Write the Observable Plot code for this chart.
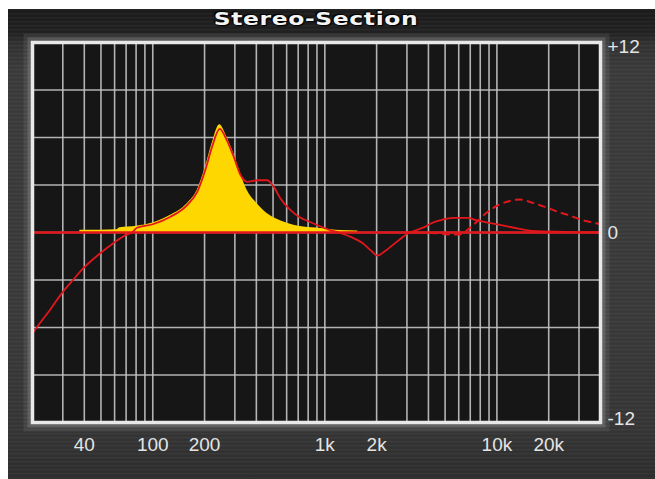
<!DOCTYPE html>
<html>
<head>
<meta charset="utf-8">
<script src="https://cdn.jsdelivr.net/npm/d3@7"></script>
<script src="https://cdn.jsdelivr.net/npm/@observablehq/plot@0.6"></script>
<style>
  html, body { margin: 0; padding: 0; background: #ffffff; }
  #wrap { position: relative; width: 655px; height: 479px; overflow: hidden; background: #fff; }
  #panel {
    position: absolute; left: 8px; top: 9px; right: 0; bottom: 0;
    background:
      repeating-linear-gradient(180deg, rgba(255,255,255,0.035) 0px, rgba(255,255,255,0.035) 1px, rgba(0,0,0,0.05) 2px, rgba(0,0,0,0.0) 4px),
      linear-gradient(180deg, #1b1b1b 0px, #222 24px, #323232 34px, #3b3b3b 60px, #3a3a3a 300px, #363636 420px, #2e2e2e 470px);
  }
  #title {
    position: absolute; left: 0; width: 632px; top: 8px; text-align: center;
    font-family: "DejaVu Sans", sans-serif; font-weight: bold; font-size: 18px;
    color: #f4f4f4; letter-spacing: 0.5px;
    text-shadow: 0 0 2px #000, 1px 1px 1px #000, -1px -1px 1px #000;
    transform: scaleX(1.3); transform-origin: 316px 0;
  }
  #chart { position: absolute; left: 0; top: 0; }
</style>
</head>
<body>
<div id="wrap">
  <div id="panel"></div>
  <div id="title">Stereo-Section</div>
  <div id="chart"></div>
</div>
<script>
// ---- data ----
const freqGrid = [30,40,50,60,70,80,90,100,200,300,400,500,600,700,800,900,1000,2000,3000,4000,5000,6000,7000,8000,9000,10000,20000,30000];
const dbGrid = [-9,-6,-3,0,3,6,9];

const xTickValues = [40,100,200,1000,2000,10000,20000];
const xTickLabels = ["40","100","200","1k","2k","10k","20k"];
const yTickValues = [12,0,-12];
const yTickLabels = ["+12","0","-12"];

// yellow filled band (frequency in Hz, gain in dB)
const yellowFreq = [37.7,49.3,62,64.5,80.7,100,126,158,181,202,221,245,270,295,323,353,404,462,552,660,752,945,1236,1553];
const yellowDb   = [0.15,0.15,0.18,0.3,0.4,0.6,1.07,1.8,2.65,4.1,5.6,6.8,6.0,5.0,3.75,2.68,1.82,1.2,0.74,0.46,0.34,0.25,0.12,0.1];

// solid red response curve
const redFreq = [20,22,25.2,29.5,34.4,39.4,49.3,60.3,68.9,76.7,81,100,126,158,181,202,221,245,270,295,323,340,353,404,462,505,552,632,706,826,945,1081,1200,1414,1655,1849,2023,2211,2475,2767,3027,3383,3870,4140,4730,5540,6770,7570,8860,10100,13300,15900,24800,40000];
const redDb   = [-6.36,-5.75,-4.91,-3.86,-3.0,-2.27,-1.33,-0.6,-0.18,0.05,0.3,0.52,0.98,1.72,2.55,3.95,5.4,6.55,5.8,4.8,3.65,3.3,3.2,3.3,3.3,2.88,2.15,1.41,0.99,0.65,0.38,0.14,0.0,-0.28,-0.66,-1.13,-1.46,-1.22,-0.8,-0.38,-0.06,0.14,0.39,0.57,0.78,0.93,0.93,0.78,0.63,0.51,0.25,0.1,0.04,0];

// dashed red curve
const dashFreq = [3000,4500,5180,6050,7080,8470,9910,11700,13700,16200,19100,22700,26800,31400,36800,40000];
const dashDb   = [0,-0.05,-0.12,-0.12,0.35,1.14,1.66,1.97,2.08,1.87,1.61,1.3,1.05,0.78,0.61,0.52];

// ---- build tables ----
const yellow = yellowFreq.map((f,i) => ({f, db: yellowDb[i]}));
const red = redFreq.map((f,i) => ({f, db: redDb[i]}));
const dashed = dashFreq.map((f,i) => ({f, db: dashDb[i]}));
const xTicks = xTickValues.map((v,i) => ({v, label: xTickLabels[i]}));
const yTicks = yTickValues.map((v,i) => ({v, label: yTickLabels[i]}));

const RED = "#e3161b";
const labelFont = "'Liberation Sans', Arial, sans-serif";

const chart = Plot.plot({
  width: 655,
  height: 479,
  marginLeft: 32,
  marginRight: 55,
  marginTop: 42,
  marginBottom: 57,
  style: { background: "transparent", fontFamily: labelFont, overflow: "visible" },
  x: { type: "log", domain: [20, 40000], axis: null },
  y: { domain: [-12, 12], axis: null },
  marks: [
    // glow around the frame
    Plot.frame({ stroke: "rgba(210,210,210,0.10)", strokeWidth: 18 }),
    Plot.frame({ stroke: "rgba(210,210,210,0.18)", strokeWidth: 10 }),
    Plot.frame({ fill: "#161617" }),
    Plot.ruleX(freqGrid, { stroke: "#c4c4c4", strokeWidth: 1.6, strokeOpacity: 0.9 }),
    Plot.ruleY(dbGrid, { stroke: "#c4c4c4", strokeWidth: 1.6, strokeOpacity: 0.9 }),
    Plot.areaY(yellow, { x: "f", y1: 0, y2: "db", fill: "#ffd700", curve: "monotone-x" }),
    Plot.ruleY([0], { stroke: RED, strokeWidth: 2.5 }),
    Plot.line(dashed, { x: "f", y: "db", stroke: RED, strokeWidth: 2, strokeDasharray: "6,6", curve: "monotone-x" }),
    Plot.line(red, { x: "f", y: "db", stroke: RED, strokeWidth: 1.8, curve: "monotone-x" }),
    Plot.frame({ stroke: "#e8e8e8", strokeWidth: 3.5 }),
    // bottom frequency labels
    Plot.text(xTicks, {
      x: "v", text: "label", frameAnchor: "bottom", lineAnchor: "middle", dy: 22,
      fontSize: 19, fill: "#e4e4e4"
    }),
    // right dB labels
    Plot.text(yTicks.filter(d => d.v > 0), {
      y: "v", text: "label", frameAnchor: "right", textAnchor: "start", dx: 7, dy: 4,
      fontSize: 19, fill: "#e4e4e4"
    }),
    Plot.text(yTicks.filter(d => d.v === 0), {
      y: "v", text: "label", frameAnchor: "right", textAnchor: "start", dx: 7,
      fontSize: 19, fill: "#e4e4e4"
    }),
    Plot.text(yTicks.filter(d => d.v < 0), {
      y: "v", text: "label", frameAnchor: "right", textAnchor: "start", dx: 7, dy: -4,
      fontSize: 19, fill: "#e4e4e4"
    })
  ]
});
document.getElementById("chart").appendChild(chart);
</script>
</body>
</html>
